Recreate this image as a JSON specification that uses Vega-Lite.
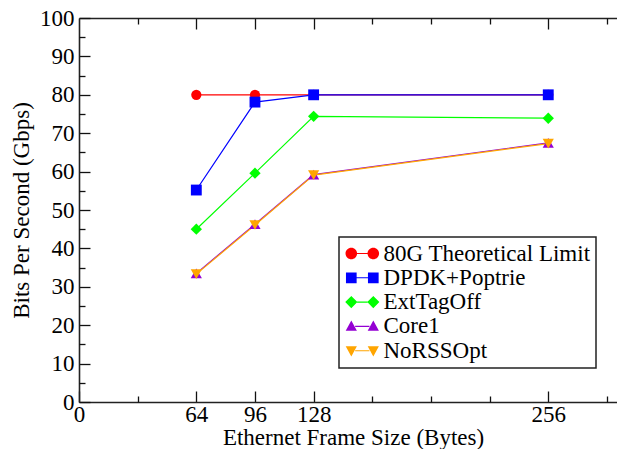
{
  "$schema": "https://vega.github.io/schema/vega-lite/v6.json",
  "width": 538,
  "height": 384,
  "autosize": {"type": "none"},
  "padding": {"left": 79, "top": 18, "right": 0, "bottom": 47},
  "background": "white",
  "config": {
    "font": "Liberation Serif, Times New Roman, serif",
    "view": {"stroke": null},
    "axis": {
      "grid": false,
      "labelFont": "Liberation Serif, Times New Roman, serif",
      "titleFont": "Liberation Serif, Times New Roman, serif",
      "labelFontSize": 23,
      "titleFontSize": 23,
      "labelColor": "#000",
      "titleColor": "#000",
      "titleFontWeight": "normal",
      "tickColor": "#111",
      "domainColor": "#222",
      "tickWidth": 1.3,
      "domainWidth": 1.6
    },
    "legend": {
      "labelFont": "Liberation Serif, Times New Roman, serif",
      "symbolStrokeWidth": 0,
      "strokeWidth": 1.5
    }
  },
  "data": {
    "values": [
      {"series": "80G Theoretical Limit", "size": 64, "gbps": 80},
      {"series": "80G Theoretical Limit", "size": 96, "gbps": 80},
      {"series": "80G Theoretical Limit", "size": 128, "gbps": 80},
      {"series": "80G Theoretical Limit", "size": 256, "gbps": 80},
      {"series": "DPDK+Poptrie", "size": 64, "gbps": 55.2},
      {"series": "DPDK+Poptrie", "size": 96, "gbps": 78.1},
      {"series": "DPDK+Poptrie", "size": 128, "gbps": 80},
      {"series": "DPDK+Poptrie", "size": 256, "gbps": 80},
      {"series": "ExtTagOff", "size": 64, "gbps": 45},
      {"series": "ExtTagOff", "size": 96, "gbps": 59.6},
      {"series": "ExtTagOff", "size": 128, "gbps": 74.4},
      {"series": "ExtTagOff", "size": 256, "gbps": 73.9},
      {"series": "Core1", "size": 64, "gbps": 33.5},
      {"series": "Core1", "size": 96, "gbps": 46.3},
      {"series": "Core1", "size": 128, "gbps": 59.2},
      {"series": "Core1", "size": 256, "gbps": 67.5},
      {"series": "NoRSSOpt", "size": 64, "gbps": 33.3},
      {"series": "NoRSSOpt", "size": 96, "gbps": 46.1},
      {"series": "NoRSSOpt", "size": 128, "gbps": 59.1},
      {"series": "NoRSSOpt", "size": 256, "gbps": 67.3}
    ]
  },
  "resolve": {"axis": {"x": "independent", "y": "independent"}},
  "layer": [
    {
      "encoding": {
        "x": {
          "field": "size",
          "type": "quantitative",
          "scale": {"domain": [0, 293.5], "nice": false, "zero": false},
          "axis": {
            "orient": "bottom",
            "values": [0, 64, 96, 128, 256],
            "tickSize": -11,
            "labelPadding": 30,
            "labelBaseline": "alphabetic",
            "labelFlush": false,
            "labelOverlap": false,
            "title": "Ethernet Frame Size (Bytes)",
            "titleX": 274,
            "titleY": 42.5,
            "titleBaseline": "alphabetic",
            "titleAlign": "center"
          }
        },
        "y": {
          "field": "gbps",
          "type": "quantitative",
          "scale": {"domain": [0, 100], "nice": false, "zero": false},
          "axis": {
            "orient": "left",
            "values": [0, 10, 20, 30, 40, 50, 60, 70, 80, 90, 100],
            "tickSize": -11,
            "labelPadding": 16,
            "labelAlign": "right",
            "labelBaseline": "middle",
            "labelFlush": false,
            "labelOverlap": false,
            "title": "Bits Per Second (Gbps)",
            "titleX": -51,
            "titleY": 192,
            "titleAngle": 270,
            "titleBaseline": "alphabetic",
            "titleAlign": "center"
          }
        },
        "color": {
          "field": "series",
          "type": "nominal",
          "scale": {
            "domain": ["80G Theoretical Limit", "DPDK+Poptrie", "ExtTagOff", "Core1", "NoRSSOpt"],
            "range": ["#ff0000", "#0000ff", "#00ff00", "#9400d3", "#ffa500"]
          },
          "legend": {
            "title": null,
            "orient": "none",
            "legendX": 260,
            "legendY": 219,
            "labelFont": "Liberation Serif, Times New Roman, serif",
            "labelFontSize": 23,
            "labelColor": "#000",
            "labelLimit": 400,
            "padding": 5,
            "rowPadding": 0.3,
            "fillColor": "white",
            "strokeColor": "#222",
            "symbolSize": 121,
            "symbolOffset": 6.8,
            "labelOffset": 9.7
          }
        }
      },
      "layer": [
        {
          "mark": {"type": "line", "strokeWidth": 1.2},
          "encoding": {"order": {"field": "size", "type": "quantitative"}}
        },
        {
          "transform": [{"filter": "datum.series === '80G Theoretical Limit'"}],
          "mark": {"type": "point", "shape": "circle", "filled": true, "size": 105, "opacity": 1, "strokeWidth": 0}
        },
        {
          "transform": [{"filter": "datum.series === 'DPDK+Poptrie'"}],
          "mark": {"type": "point", "shape": "square", "filled": true, "size": 118, "opacity": 1, "strokeWidth": 0}
        },
        {
          "transform": [{"filter": "datum.series === 'ExtTagOff'"}],
          "mark": {"type": "point", "shape": "diamond", "filled": true, "size": 128, "opacity": 1, "strokeWidth": 0}
        },
        {
          "transform": [{"filter": "datum.series === 'Core1'"}],
          "mark": {"type": "point", "shape": "triangle-up", "filled": true, "size": 125, "opacity": 1, "strokeWidth": 0}
        },
        {
          "transform": [{"filter": "datum.series === 'NoRSSOpt'"}],
          "mark": {"type": "point", "shape": "triangle-down", "filled": true, "size": 125, "opacity": 1, "strokeWidth": 0}
        },
        {
          "mark": {"type": "point", "filled": true, "size": 0, "strokeWidth": 0},
          "encoding": {
            "shape": {
              "field": "series",
              "type": "nominal",
              "scale": {
                "domain": ["80G Theoretical Limit", "DPDK+Poptrie", "ExtTagOff", "Core1", "NoRSSOpt"],
                "range": [
                  "M-3.05,0C-3.05,-0.58 -2.58,-1.05 -2,-1.05C-1.42,-1.05 -0.95,-0.58 -0.95,0C-0.95,0.58 -1.42,1.05 -2,1.05C-2.58,1.05 -3.05,0.58 -3.05,0Z M0.95,0C0.95,-0.58 1.42,-1.05 2,-1.05C2.58,-1.05 3.05,-0.58 3.05,0C3.05,0.58 2.58,1.05 2,1.05C1.42,1.05 0.95,0.58 0.95,0Z M-1,-0.1L1,-0.1L1,0.1L-1,0.1Z",
                  "M-2.97,-0.97L-1.03,-0.97L-1.03,0.97L-2.97,0.97Z M1.03,-0.97L2.97,-0.97L2.97,0.97L1.03,0.97Z M-1.03,-0.1L1.03,-0.1L1.03,0.1L-1.03,0.1Z",
                  "M-2,-1.1L-0.9,0L-2,1.1L-3.1,0Z M2,-1.1L3.1,0L2,1.1L0.9,0Z M-0.95,-0.1L0.95,-0.1L0.95,0.1L-0.95,0.1Z",
                  "M-2,-1.05L-0.98,0.8L-3.02,0.8Z M2,-1.05L3.02,0.8L0.98,0.8Z M-1.3,-0.1L1.3,-0.1L1.3,0.1L-1.3,0.1Z",
                  "M-3.02,-0.8L-0.98,-0.8L-2,1.05Z M0.98,-0.8L3.02,-0.8L2,1.05Z M-1.3,-0.1L1.3,-0.1L1.3,0.1L-1.3,0.1Z"
                ]
              }
            }
          }
        }
      ]
    },
    {
      "mark": {"type": "point", "opacity": 0},
      "encoding": {
        "x": {
          "field": "size",
          "type": "quantitative",
          "axis": {"orient": "bottom", "values": [32, 160, 192, 224, 288], "tickSize": -6, "labels": false, "domain": false, "title": null}
        },
        "y": {
          "field": "gbps",
          "type": "quantitative",
          "axis": {"orient": "left", "values": [5, 15, 25, 35, 45, 55, 65, 75, 85, 95], "tickSize": -6, "labels": false, "domain": false, "title": null}
        }
      }
    },
    {
      "mark": {"type": "point", "opacity": 0},
      "encoding": {
        "x": {
          "field": "size",
          "type": "quantitative",
          "axis": {"orient": "top", "values": [64, 96, 128, 256], "tickSize": -11, "labels": false, "domain": true, "title": null}
        },
        "y": {"field": "gbps", "type": "quantitative", "axis": null}
      }
    },
    {
      "mark": {"type": "point", "opacity": 0},
      "encoding": {
        "x": {
          "field": "size",
          "type": "quantitative",
          "axis": {"orient": "top", "values": [32, 160, 192, 224, 288], "tickSize": -6, "labels": false, "domain": false, "title": null}
        },
        "y": {"field": "gbps", "type": "quantitative", "axis": null}
      }
    }
  ]
}
